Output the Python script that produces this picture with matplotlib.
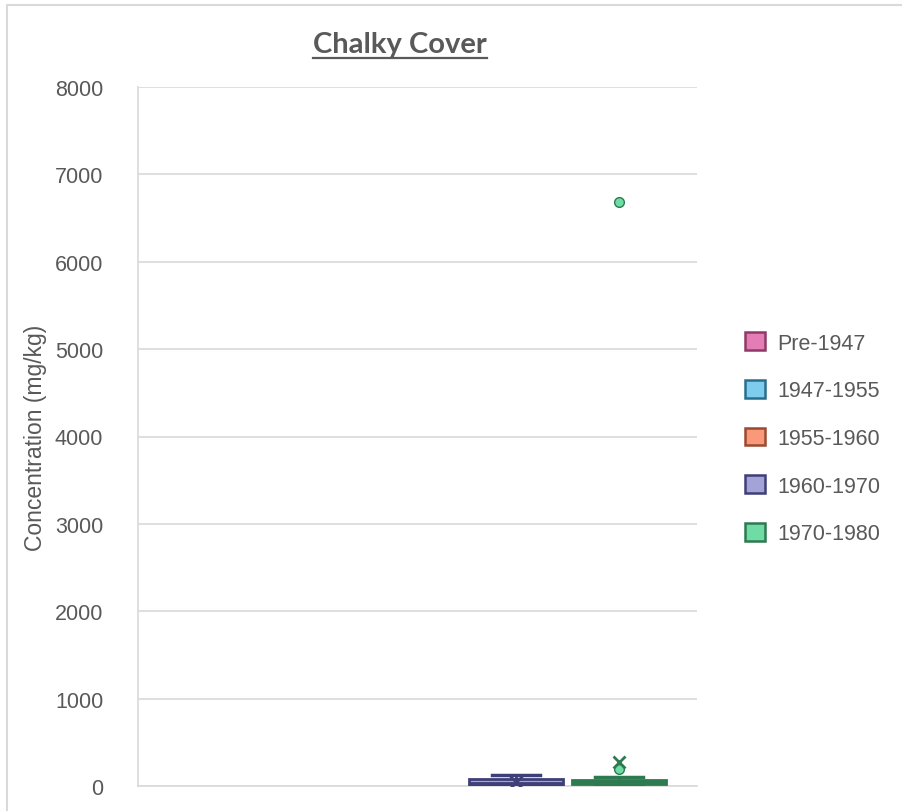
import matplotlib.pyplot as plt
from matplotlib.patches import Patch
from matplotlib.lines import Line2D

plt.rcParams['font.family'] = ['Liberation Sans', 'DejaVu Sans']

# 数据
SERIES = ['Pre-1947', '1947-1955', '1955-1960', '1960-1970', '1970-1980']
PRE_1947 = []
Y1947_1955 = []
Y1955_1960 = []
Y1960_1970 = [2, 5, 12, 25, 40, 60, 85, 95, 125]
Y1970_1980 = [5, 8, 10, 10, 12, 15, 18, 20, 22, 25, 28, 30, 35, 40, 45, 48,
              50, 55, 60, 62, 65, 70, 72, 75, 80, 85, 90, 100, 195, 6680]
DATA = [PRE_1947, Y1947_1955, Y1955_1960, Y1960_1970, Y1970_1980]

FILL = ['#E47DB5', '#7ECDEF', '#F9997A', '#A3A3D8', '#6FDCA5']
EDGE = ['#8E3A66', '#2A6E8E', '#9A4A30', '#3E3E78', '#2E7A50']
TXT = '#595959'
GRID = '#D9D9D9'

fig = plt.figure(figsize=(9.02, 8.12), dpi=100)
ax = fig.add_axes([138 / 902, 1 - 787 / 812, (697 - 138) / 902, (787 - 88) / 812])

for i, vals in enumerate(DATA):
    if not vals:
        continue
    ax.boxplot([vals], positions=[i + 1], widths=0.92, patch_artist=True,
               showmeans=True,
               boxprops=dict(facecolor=FILL[i], edgecolor=EDGE[i], linewidth=2),
               medianprops=dict(color=EDGE[i], linewidth=2),
               whiskerprops=dict(color=EDGE[i], linewidth=2),
               capprops=dict(color=EDGE[i], linewidth=2.5),
               meanprops=dict(marker='x', markeredgecolor=EDGE[i], markersize=9,
                              markeredgewidth=2),
               flierprops=dict(marker='o', markerfacecolor=FILL[i],
                               markeredgecolor=EDGE[i], markersize=7),
               zorder=3)

ax.set_xlim(0.33, 5.757)
ax.set_ylim(0, 8000)
ax.set_yticks(range(0, 8001, 1000))
ax.set_xticks([])
ax.tick_params(axis='y', length=0, labelsize=15.5, labelcolor=TXT, pad=25)
ax.grid(axis='y', color=GRID, linewidth=1.2, zorder=0)
ax.set_axisbelow(True)
for s in ['top', 'right']:
    ax.spines[s].set_visible(False)
ax.spines['left'].set_color(GRID)
ax.spines['left'].set_linewidth(1.2)
ax.spines['bottom'].set_color(GRID)
ax.spines['bottom'].set_linewidth(1.2)

ax.set_ylabel('Concentration (mg/kg)', fontsize=16.5, color=TXT, labelpad=6)

handles = [Patch(facecolor=FILL[i], edgecolor=EDGE[i], linewidth=1.8, label=SERIES[i])
           for i in range(len(SERIES))]
fig.legend(handles=handles, loc='upper left', bbox_to_anchor=(726 / 902, 1 - 314 / 812),
           frameon=False, fontsize=15.5, labelcolor=TXT, handlelength=0.9,
           handleheight=0.9, handletextpad=0.6, labelspacing=1.22)

# 标题 + 下划线
title = fig.text(400 / 902, 1 - 45 / 812, 'Chalky Cover', ha='center', va='center',
                 fontsize=21, fontweight='bold', color=TXT, family=['Lato', 'DejaVu Sans'])
fig.canvas.draw()
bb = title.get_window_extent(fig.canvas.get_renderer())
uy = bb.y0 - 1
fig.add_artist(Line2D([bb.x0 / 902, bb.x1 / 902], [uy / 812, uy / 812],
                      color=TXT, linewidth=1.6, transform=fig.transFigure))

# 图表外框
fig.add_artist(Line2D([7 / 902, 7 / 902, 902 / 902], [0, 1 - 6 / 812, 1 - 6 / 812],
                      color=GRID, linewidth=1.5, transform=fig.transFigure))

fig.savefig('out.png', dpi=100)
